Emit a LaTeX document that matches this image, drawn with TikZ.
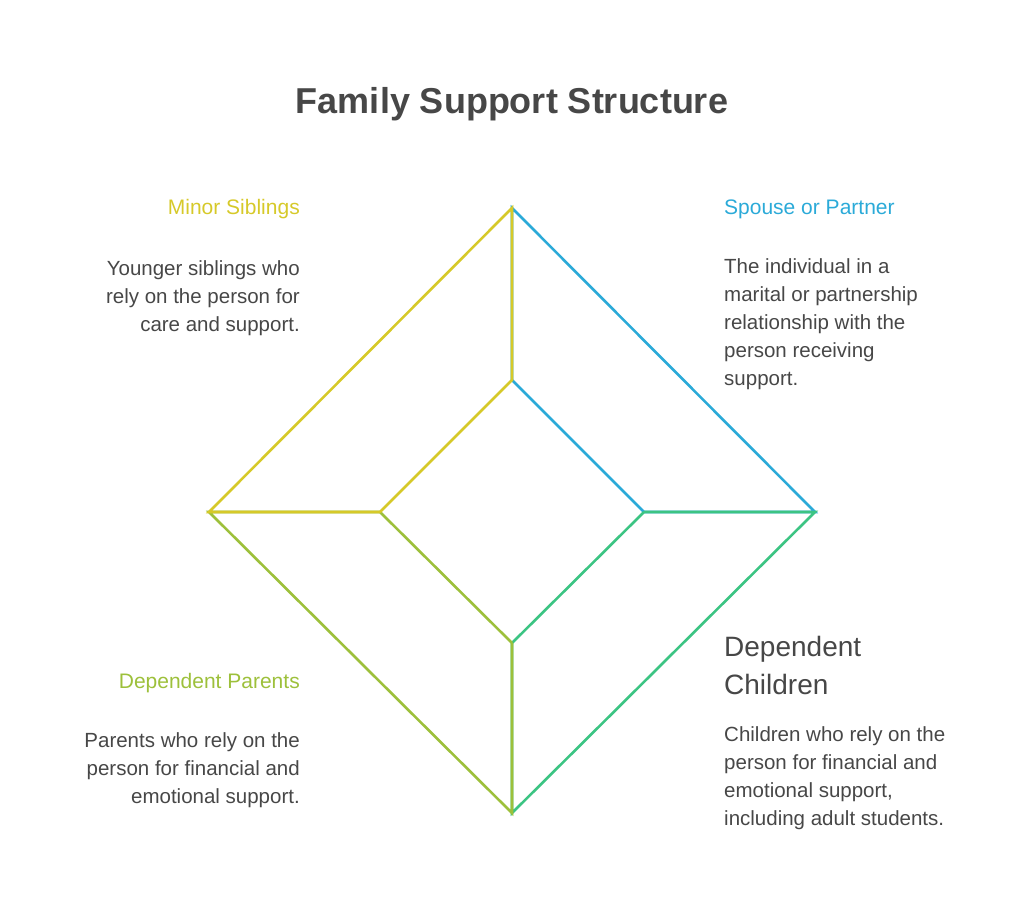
\documentclass[tikz,border=0pt]{standalone}
\usepackage{fontspec}
\setmainfont{Liberation Sans}
\definecolor{ink}{HTML}{474747}
\definecolor{cyel}{HTML}{D6C929}
\definecolor{cblue}{HTML}{2BAAD8}
\definecolor{cgreen}{HTML}{3CC483}
\definecolor{colive}{HTML}{9DC03B}
\tikzset{
  edge/.style={line width=2.6pt},
  head/.style={font=\fontsize{21}{28}\selectfont, inner sep=0pt},
  body/.style={font=\fontsize{20.5}{28}\selectfont, text=ink, inner sep=0pt},
}
\begin{document}
\begin{tikzpicture}[x=1pt,y=-1pt]
\useasboundingbox (0,0) rectangle (1024,910);
% title
\node[font=\bfseries\fontsize{36}{40}\selectfont, text=ink] (title) at (512,104) {Family Support Structure};
% diamond corners
\coordinate (ot) at (512,208);
\coordinate (or) at (815,512);
\coordinate (ob) at (512,813);
\coordinate (ol) at (209,512);
\coordinate (it) at (512,380);
\coordinate (ir) at (644,512);
\coordinate (ib) at (512,643);
\coordinate (il) at (380,512);
% quadrants
\draw[edge,cblue] (it) -- (ot) -- (or) -- (ir) -- (it);
\draw[edge,cgreen] (ir) -- (or) -- (ob) -- (ib) -- (ir);
\draw[edge,colive] (ib) -- (ob) -- (ol) -- (il) -- (ib);
\draw[edge,cyel] (il) -- (ol) -- (ot) -- (it) -- (il);
% labels
\node[head, text=cyel, anchor=east] (sibh) at (300,209) {Minor Siblings};
\node[body, anchor=north east, align=right] (sibt) at (300,260) {Younger siblings who\\rely on the person for\\care and support.};
\node[head, text=cblue, anchor=west] (spoh) at (724,209) {Spouse or Partner};
\node[body, anchor=north west, align=left] (spot) at (724,258) {The individual in a\\marital or partnership\\relationship with the\\person receiving\\support.};
\node[font=\fontsize{28}{38}\selectfont, text=ink, inner sep=0pt, anchor=north west, align=left] (chih) at (724,636) {Dependent\\Children};
\node[body, anchor=north west, align=left] (chit) at (724,726) {Children who rely on the\\person for financial and\\emotional support,\\including adult students.};
\node[head, text=colive, anchor=east] (parh) at (300,683) {Dependent Parents};
\node[body, anchor=north east, align=right] (part) at (300,732) {Parents who rely on the\\person for financial and\\emotional support.};
\end{tikzpicture}
\end{document}
